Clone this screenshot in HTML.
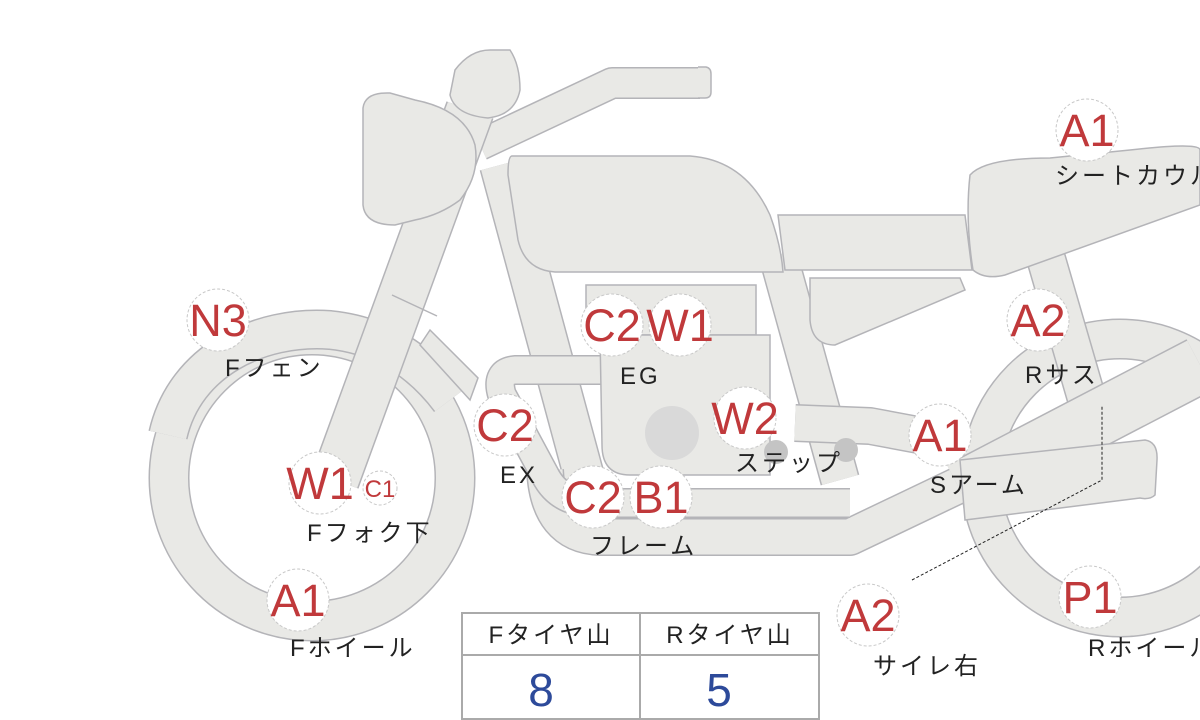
<!DOCTYPE html>
<html><head><meta charset="utf-8"><style>
html,body{margin:0;padding:0;background:#fff;width:1200px;height:720px;overflow:hidden}
svg{display:block}
.o{fill:none;stroke:#b4b4b8;stroke-linecap:butt;stroke-linejoin:round}
.f{fill:none;stroke:#e9e9e6;stroke-linecap:butt;stroke-linejoin:round}
.s{fill:#e9e9e6;stroke:#b4b4b8;stroke-width:1.5}
.b circle{fill:#fff;stroke:#c8c8c8;stroke-width:1;stroke-dasharray:3 2}
.b text{fill:#c0393b;font-family:"Liberation Sans",sans-serif;font-size:45px;text-anchor:middle}
.l{fill:#222;font-family:"Liberation Sans","Noto Sans CJK JP",sans-serif;font-size:24px;letter-spacing:3px}
</style></head><body>
<svg width="1200" height="720" viewBox="0 0 1200 720">
<circle cx="312" cy="478" r="143" class="o" stroke-width="41"/>
<circle cx="312" cy="478" r="143" class="f" stroke-width="38"/>
<circle cx="1120" cy="478" r="139" class="o" stroke-width="41"/>
<circle cx="1120" cy="478" r="139" class="f" stroke-width="38"/>
<path d="M168,435 C185,360 260,325 330,330 C380,335 420,360 450,400" class="o" stroke-width="40"/>
<path d="M168,435 C185,360 260,325 330,330 C380,335 420,360 450,400" class="f" stroke-width="37"/>
<path class="s" d="M420,345 L470,400 L478,378 L430,330 Z" stroke="none"/>
<path d="M500,165 L585,480" class="o" stroke-width="42"/>
<path d="M500,165 L585,480" class="f" stroke-width="39"/>
<path d="M778,255 L840,480" class="o" stroke-width="40"/>
<path d="M778,255 L840,480" class="f" stroke-width="37"/>
<path d="M1045,255 L1090,410" class="o" stroke-width="40"/>
<path d="M1045,255 L1090,410" class="f" stroke-width="37"/>
<path d="M545,470 Q548,535 600,537 L850,537 L1200,370" class="o" stroke-width="38"/>
<path d="M545,470 Q548,535 600,537 L850,537 L1200,370" class="f" stroke-width="35"/>
<path d="M640,370 L515,370 Q495,372 502,395 L545,475 Q560,505 600,503 L850,503" class="o" stroke-width="30"/>
<path d="M640,370 L515,370 Q495,372 502,395 L545,475 Q560,505 600,503 L850,503" class="f" stroke-width="27"/>
<path d="M795,423 L870,426 L945,440" class="o" stroke-width="38"/>
<path d="M795,423 L870,426 L945,440" class="f" stroke-width="35"/>
<path d="M960,490 L1200,365" class="o" stroke-width="58"/>
<path d="M960,490 L1200,365" class="f" stroke-width="55"/>
<path class="s" d="M960,460 L1145,440 Q1158,442 1157,460 L1155,495 Q1150,500 1140,498 L965,520 Z"/>
<!-- handlebar -->
<path d="M480,145 L612,83 L700,83" class="o" stroke-width="32"/>
<path d="M480,145 L612,83 L700,83" class="f" stroke-width="29"/>
<path class="s" d="M698,67 L706,67 Q711,68 711,74 L711,92 Q711,98 705,98 L698,98" stroke="#b4b4b8"/>
<rect x="690" y="68.5" width="16" height="28.5" fill="#e9e9e6"/>
<path d="M470,110 L335,480" class="o" stroke-width="50"/>
<path d="M470,110 L335,480" class="f" stroke-width="47"/>
<line x1="392" y1="295" x2="437" y2="316" stroke="#b4b4b8" stroke-width="1.5"/>
<path class="s" d="M455,70 Q470,50 490,50 L510,50 Q520,65 520,90 Q515,115 488,118 Q455,115 450,95 Z"/>
<path class="s" d="M363,108 Q365,92 390,93 L415,100 Q465,110 475,145 Q480,175 460,200 Q440,215 415,220 L395,225 Q365,225 363,205 Z"/>
<path class="s" d="M512,156 L690,156 Q745,160 770,215 Q781,245 783,272 L555,272 Q525,270 518,240 L508,175 Q508,156 512,156 Z"/>
<path class="s" d="M778,215 L965,215 L972,270 L785,270 Z"/>
<path class="s" d="M970,175 Q985,158 1050,158 L1130,150 Q1200,142 1200,150 L1200,205 L1005,275 Q985,280 973,270 Q965,220 970,175 Z"/>
<path class="s" d="M810,278 L960,278 L965,290 L835,345 Q812,345 810,320 Z"/>
<rect class="s" x="586" y="285" width="170" height="50"/>
<path class="s" d="M600,335 L770,335 L770,475 L630,475 Q602,475 602,445 Z"/>
<circle cx="672" cy="433" r="27" fill="#d9d9d9"/>
<circle cx="776" cy="452" r="12" fill="#c4c4c4"/>
<circle cx="846" cy="450" r="12" fill="#c4c4c4"/>
<path d="M912,580 L1102,480 L1102,405" fill="none" stroke="#222" stroke-width="1" stroke-dasharray="3 2"/>
<g class="b">
<circle cx="1087" cy="130" r="31"/><text x="1087" y="146">A1</text>
<circle cx="218" cy="320" r="31"/><text x="218" y="336">N3</text>
<circle cx="612" cy="325" r="31"/><text x="612" y="341">C2</text>
<circle cx="680" cy="325" r="31"/><text x="680" y="341">W1</text>
<circle cx="1038" cy="320" r="31"/><text x="1038" y="336">A2</text>
<circle cx="505" cy="425" r="31"/><text x="505" y="441">C2</text>
<circle cx="745" cy="418" r="31"/><text x="745" y="434">W2</text>
<circle cx="940" cy="435" r="31"/><text x="940" y="451">A1</text>
<circle cx="320" cy="483" r="31"/><text x="320" y="499">W1</text>
<circle cx="380" cy="488" r="17"/><text x="380" y="497" style="font-size:24px">C1</text>
<circle cx="593" cy="497" r="31"/><text x="593" y="513">C2</text>
<circle cx="661" cy="497" r="31"/><text x="661" y="513">B1</text>
<circle cx="298" cy="600" r="31"/><text x="298" y="616">A1</text>
<circle cx="868" cy="615" r="31"/><text x="868" y="631">A2</text>
<circle cx="1090" cy="597" r="31"/><text x="1090" y="613">P1</text>
</g>
<g class="l">
<text x="1055" y="184">シートカウル</text>
<text x="225" y="376">Fフェン</text>
<text x="620" y="384">EG</text>
<text x="1025" y="383">Rサス</text>
<text x="500" y="483">EX</text>
<text x="735" y="471">ステップ</text>
<text x="930" y="493">Sアーム</text>
<text x="307" y="541">Fフォク下</text>
<text x="590" y="554">フレーム</text>
<text x="290" y="656">Fホイール</text>
<text x="873" y="674">サイレ右</text>
<text x="1088" y="656">Rホイール</text>
</g>
<rect x="462" y="613" width="357" height="106" fill="#fff" stroke="#aaa" stroke-width="2"/>
<line x1="462" y1="655" x2="819" y2="655" stroke="#aaa" stroke-width="2"/>
<line x1="640" y1="613" x2="640" y2="719" stroke="#aaa" stroke-width="2"/>
<text x="551" y="643" class="l" text-anchor="middle" style="font-size:24px">Fタイヤ山</text>
<text x="730" y="643" class="l" text-anchor="middle" style="font-size:24px">Rタイヤ山</text>
<text x="541" y="706" fill="#2d4a9a" font-family="Liberation Sans,sans-serif" font-size="46" text-anchor="middle">8</text>
<text x="719" y="706" fill="#2d4a9a" font-family="Liberation Sans,sans-serif" font-size="46" text-anchor="middle">5</text>
</svg>
</body></html>
